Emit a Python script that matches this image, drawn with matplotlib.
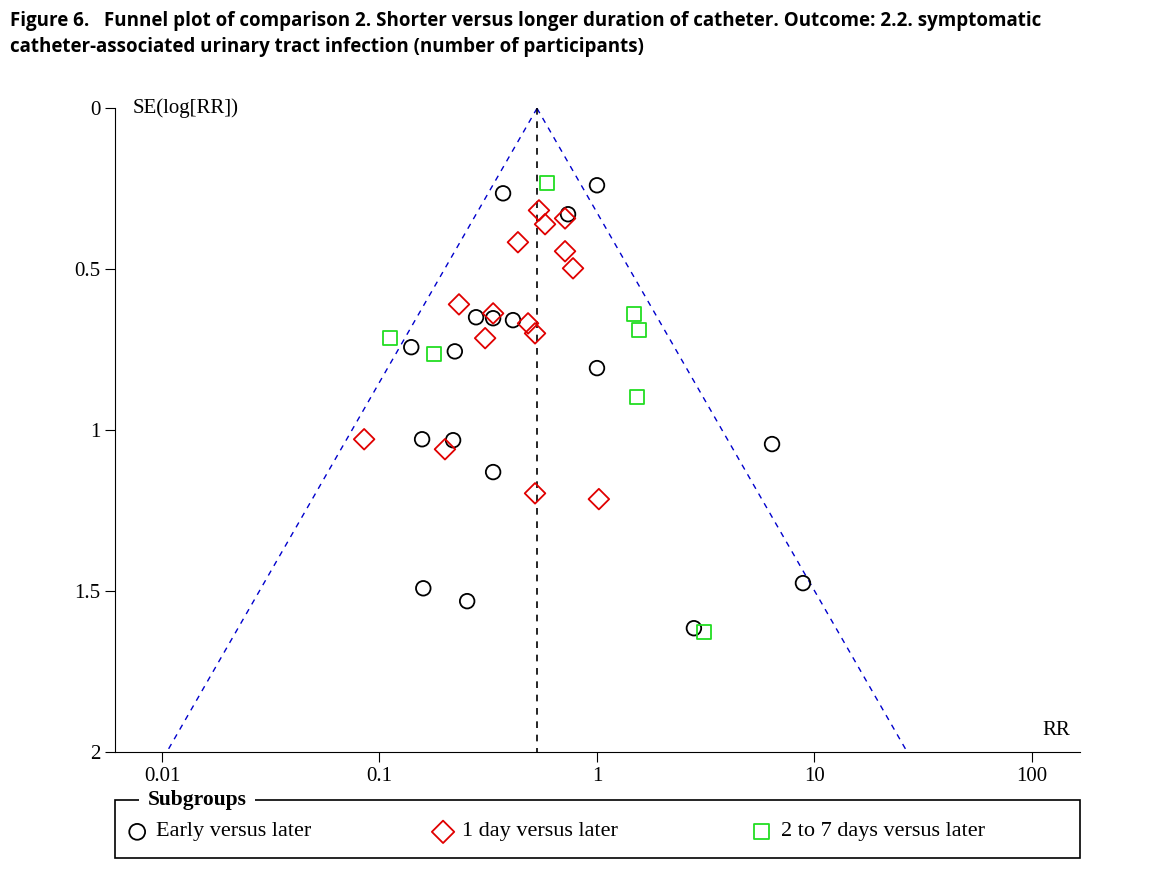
import numpy as np
import matplotlib
matplotlib.use("Agg")
import matplotlib.pyplot as plt
from matplotlib.patches import Rectangle

# Early versus later
early_rr = [0.37, 1.0, 0.736, 0.278, 0.333, 0.411, 0.14, 0.222, 1.0, 0.157, 0.218, 0.333, 6.38, 0.159, 0.253, 8.85, 2.79]
early_se = [0.264, 0.239, 0.329, 0.649, 0.652, 0.658, 0.742, 0.755, 0.807, 1.028, 1.031, 1.130, 1.043, 1.491, 1.531, 1.475, 1.615]
# 1 day versus later
day1_rr = [0.541, 0.577, 0.713, 0.433, 0.713, 0.776, 0.232, 0.333, 0.482, 0.519, 0.306, 0.085, 0.2, 0.519, 1.02]
day1_se = [0.317, 0.360, 0.342, 0.416, 0.444, 0.497, 0.609, 0.637, 0.668, 0.699, 0.714, 1.028, 1.059, 1.196, 1.214]
# 2 to 7 days versus later
day27_rr = [0.589, 1.48, 1.56, 0.112, 0.178, 1.53, 3.10]
day27_se = [0.233, 0.640, 0.689, 0.714, 0.764, 0.898, 1.627]

pooled_rr = 0.53
xticks = [0.01, 0.1, 1, 10, 100]
xticklabels = ["0.01", "0.1", "1", "10", "100"]
yticks = [0, 0.5, 1, 1.5, 2]
yticklabels = ["0", "0.5", "1", "1.5", "2"]

plt.rcParams["font.family"] = ["Liberation Serif", "DejaVu Serif"]

fig = plt.figure(figsize=(11.5, 8.88), dpi=100)
fig.text(0.009, 0.988, "Figure 6.   Funnel plot of comparison 2. Shorter versus longer duration of catheter. Outcome: 2.2. symptomatic\n"
         "catheter-associated urinary tract infection (number of participants)",
         family=["Open Sans", "DejaVu Sans"], fontweight="bold", fontsize=13.5, va="top", ha="left", linespacing=1.45)

ax = fig.add_axes([0.1, 0.153, 0.839, 0.725])
ax.set_xscale("log")
ax.set_xlim(10 ** -2.216, 10 ** 2.22)
ax.set_ylim(2, 0)

se_line = np.array([0, 2])
lo = np.exp(np.log(pooled_rr) - 1.96 * se_line)
hi = np.exp(np.log(pooled_rr) + 1.96 * se_line)
ax.plot(lo, se_line, color="#0000cc", ls=(0, (4, 4)), lw=1)
ax.plot(hi, se_line, color="#0000cc", ls=(0, (4, 4)), lw=1)
ax.plot([pooled_rr, pooled_rr], [0, 2], color="black", ls=(0, (4, 4)), lw=1.2)

ax.scatter(early_rr, early_se, s=110, marker="o", facecolors="none", edgecolors="black", linewidths=1.3, zorder=3)
ax.scatter(day1_rr, day1_se, s=110, marker="D", facecolors="none", edgecolors="#e00000", linewidths=1.3, zorder=3)
ax.scatter(day27_rr, day27_se, s=100, marker="s", facecolors="none", edgecolors="#22dd22", linewidths=1.3, zorder=3)

for s in ["top", "right"]:
    ax.spines[s].set_visible(False)
ax.set_xticks(xticks)
ax.set_xticklabels(xticklabels, fontsize=15)
ax.xaxis.set_minor_locator(matplotlib.ticker.NullLocator())
ax.set_yticks(yticks)
ax.set_yticklabels(yticklabels, fontsize=15)
ax.tick_params(length=7)
ax.text(0.018, 1.0, "SE(log[RR])", transform=ax.transAxes, fontsize=15, va="center", ha="left")
ax.text(0.99, 0.033, "RR", transform=ax.transAxes, fontsize=15, va="center", ha="right")

# legend box
lax = fig.add_axes([0.1, 0.034, 0.839, 0.065])
lax.set_xlim(0, 1)
lax.set_ylim(0, 1)
lax.axis("off")
lax.add_patch(Rectangle((0, 0), 1, 1, fill=False, lw=1.2, edgecolor="black", clip_on=False))
lax.text(0.034, 1.0, "Subgroups", fontsize=15.5, fontweight="bold", va="center", ha="left",
         bbox=dict(facecolor="white", edgecolor="none", pad=6))
lax.scatter([0.023], [0.45], s=130, marker="o", facecolors="none", edgecolors="black", linewidths=1.3, clip_on=False)
lax.text(0.043, 0.45, "Early versus later", fontsize=16, va="center")
lax.scatter([0.34], [0.45], s=130, marker="D", facecolors="none", edgecolors="#e00000", linewidths=1.3, clip_on=False)
lax.text(0.36, 0.45, "1 day versus later", fontsize=16, va="center")
lax.scatter([0.67], [0.45], s=120, marker="s", facecolors="none", edgecolors="#22dd22", linewidths=1.3, clip_on=False)
lax.text(0.69, 0.45, "2 to 7 days versus later", fontsize=16, va="center")

fig.savefig("out.png", dpi=100)
